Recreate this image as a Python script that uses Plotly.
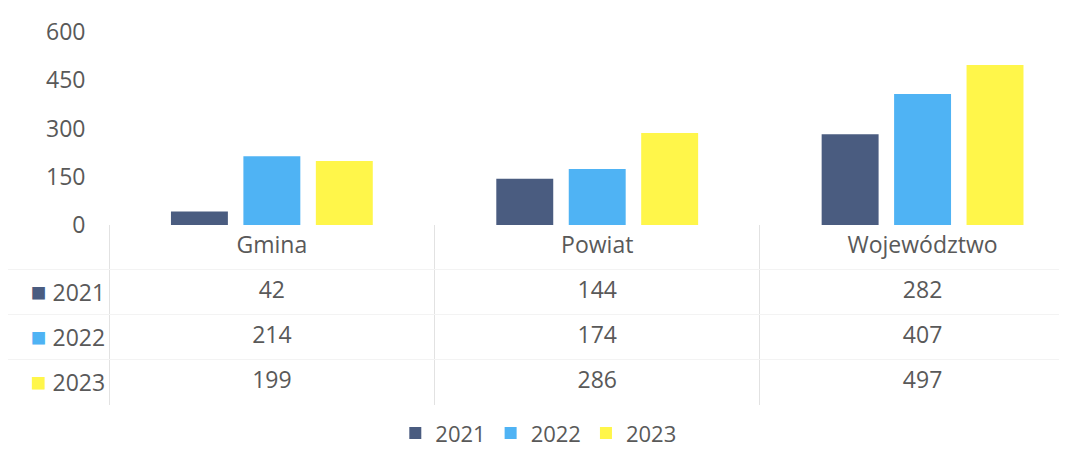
import plotly.graph_objects as go

categories = ["Gmina", "Powiat", "Województwo"]
years = ["2021", "2022", "2023"]
values_2021 = [42, 144, 282]
values_2022 = [214, 174, 407]
values_2023 = [199, 286, 497]
y_ticks = [0, 150, 300, 450, 600]

series = [values_2021, values_2022, values_2023]
colors = ["#4A5C80", "#4FB3F4", "#FFF64A"]
txt = "#595959"
FONT = "Open Sans"

fig = go.Figure()

for yr, vals, col in zip(years, series, colors):
    fig.add_trace(go.Bar(x=categories, y=vals, name=yr, marker=dict(color=col, line=dict(width=0)),
                         xaxis="x", yaxis="y"))

# data table: header row + value rows
rows = ["hdr"] + years
fig.add_trace(go.Scatter(x=categories, y=["hdr"] * len(categories), text=categories, mode="text",
                         textfont=dict(size=23, color=txt, family=FONT), showlegend=False,
                         cliponaxis=False, hoverinfo="skip", xaxis="x2", yaxis="y2"))
for yr, vals in zip(years, series):
    fig.add_trace(go.Scatter(x=categories, y=[yr] * len(categories), text=[str(v) for v in vals],
                             mode="text", textfont=dict(size=23, color=txt, family=FONT),
                             cliponaxis=False, showlegend=False, hoverinfo="skip",
                             xaxis="x2", yaxis="y2"))

row_ticktext = [""] + [
    f"<span style='color:{c};font-size:26px'>■</span> {yr}" for yr, c in zip(years, colors)
]

xr = [-0.811, 2.4685]
fig.update_layout(
    width=1067, height=450,
    margin=dict(l=0, r=0, t=0, b=0, autoexpand=False),
    paper_bgcolor="white", plot_bgcolor="white",
    font=dict(family=FONT, size=23, color=txt),
    barmode="group", bargap=0.332, bargroupgap=0.214,
    showlegend=True,
    legend=dict(orientation="h", x=0.497, xanchor="center", y=0.055, yanchor="middle",
                font=dict(size=22, color=txt), itemwidth=30, tracegroupgap=0),
    xaxis=dict(domain=[0, 1], range=xr, anchor="y", showticklabels=False, showgrid=False,
               zeroline=False, showline=False, ticks="", categoryorder="array",
               categoryarray=categories),
    yaxis=dict(domain=[0.5178, 0.9467], range=[0, 600], anchor="free", position=0.0726,
               tickvals=y_ticks, showgrid=False, zeroline=False, showline=False, ticks="",
               tickfont=dict(size=23, color=txt)),
    xaxis2=dict(domain=[0, 1], range=xr, anchor="y2", showticklabels=False,
                showgrid=True, gridcolor="#e2e2e2", gridwidth=1, tickson="boundaries",
                zeroline=False, showline=False, ticks="", categoryorder="array",
                categoryarray=categories, matches="x"),
    yaxis2=dict(domain=[0.1178, 0.5178], anchor="free", position=0.091, type="category",
                categoryorder="array", categoryarray=rows, range=[3.5, -0.5],
                tickvals=rows, ticktext=row_ticktext, tickson="boundaries",
                showgrid=True, gridcolor="#f3f3f3", gridwidth=1,
                zeroline=False, showline=False, ticks="", tickfont=dict(size=23, color=txt)),
)

fig.write_html("out.html")
